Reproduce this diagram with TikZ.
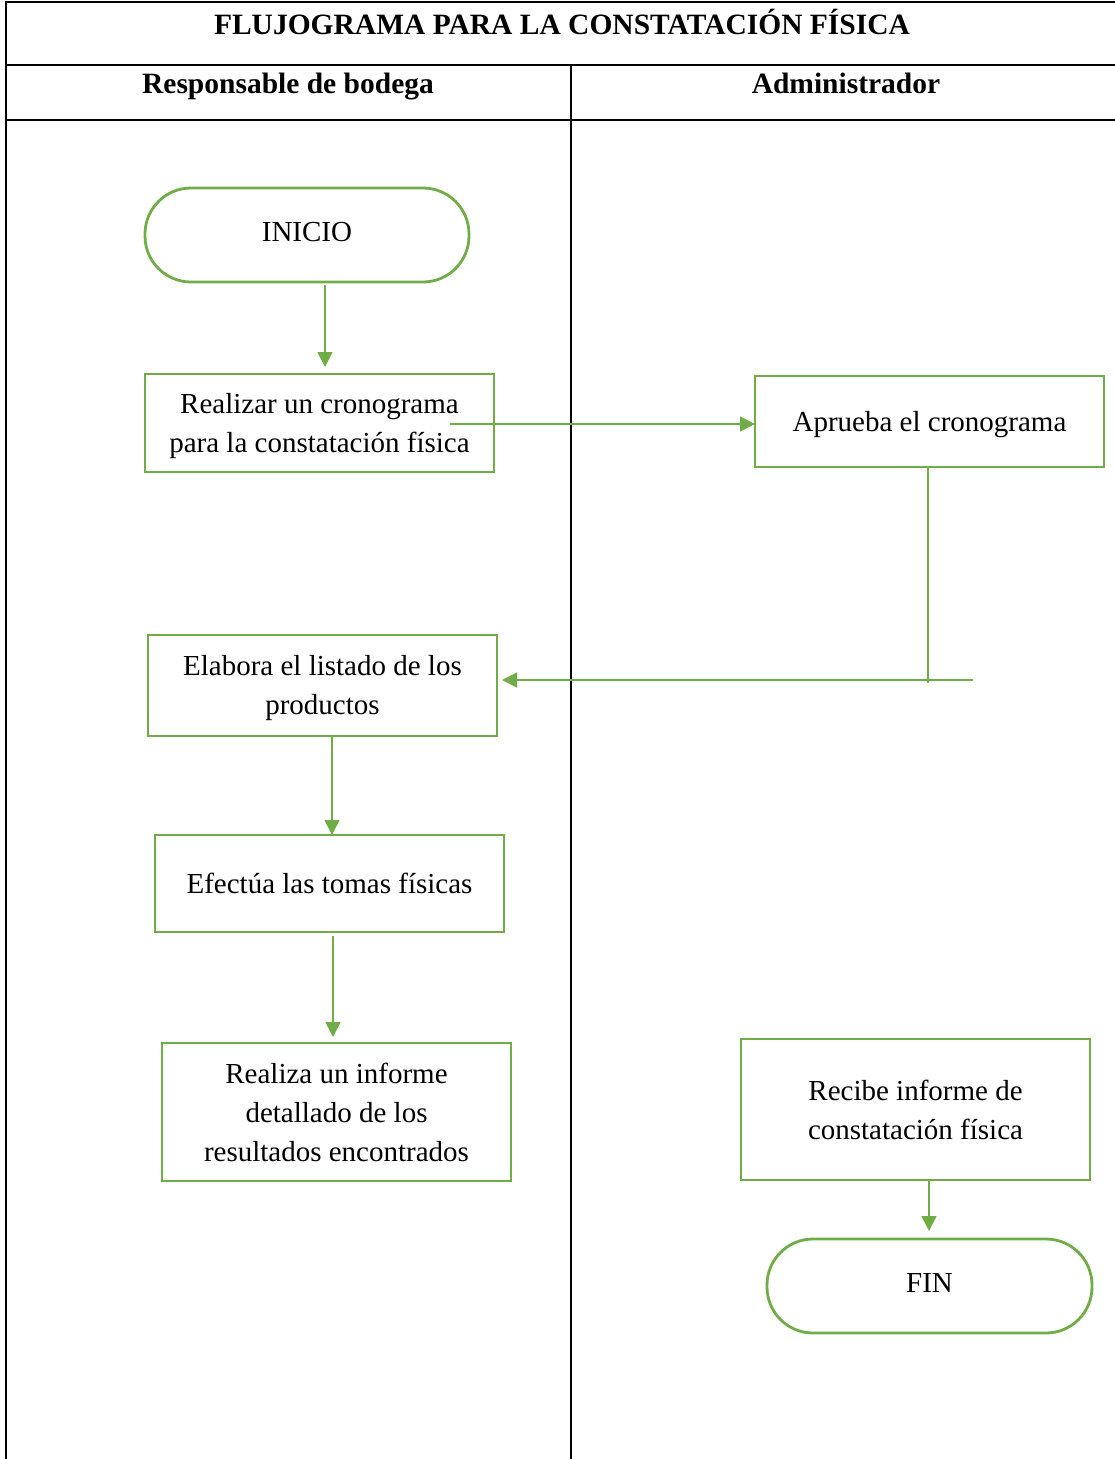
\documentclass[tikz,border=0pt]{standalone}
\usepackage{fontspec}
\setmainfont{Liberation Serif}
\usetikzlibrary{arrows.meta}
\definecolor{flowgreen}{HTML}{70AD47}
\newcommand{\lowertxt}[2]{\raisebox{#1}[\height][\depth]{#2}}
\tikzset{
  procbox/.style={draw=flowgreen, line width=2.8pt, rectangle, align=center, inner sep=0pt, font=\fontsize{29}{39}\selectfont},
  termbox/.style={draw=flowgreen, line width=2.8pt, rectangle, rounded corners=46pt, align=center, inner sep=0pt, font=\fontsize{29}{39}\selectfont},
  conn/.style={draw=flowgreen, line width=1.5pt},
  arr/.style={conn, -{Triangle[length=15pt,width=15pt]}},
  rule/.style={draw=black, line width=2pt},
  headtxt/.style={font=\bfseries\fontsize{29.5}{35}\selectfont, inner sep=0pt, anchor=base}
}
\begin{document}
\begin{tikzpicture}[x=1pt,y=-1pt]
\useasboundingbox (0,0) rectangle (1115,1459);
% table rules
\draw[rule] (6,2) -- (1115,2);
\draw[rule] (6,1) -- (6,1459);
\draw[rule] (6,65) -- (1115,65);
\draw[rule] (6,120) -- (1115,120);
\draw[rule] (571,65) -- (571,1459);
% headers
\node[headtxt] (title) at (562,34) {FLUJOGRAMA PARA LA CONSTATACIÓN FÍSICA};
\node[headtxt] (lane1) at (288,93) {Responsable de bodega};
\node[headtxt] (lane2) at (846,93) {Administrador};
% nodes
\node[termbox, minimum width=324pt, minimum height=94pt] (inicio) at (307,235) {\lowertxt{3pt}{INICIO}};
\node[procbox, minimum width=349pt, minimum height=98pt] (realizar) at (319.5,423) {\lowertxt{-3pt}{\parbox{340pt}{\centering Realizar un cronograma\\para la constatación física}}};
\node[procbox, minimum width=349pt, minimum height=91pt] (aprueba) at (929.5,421.5) {\lowertxt{-3pt}{Aprueba el cronograma}};
\node[procbox, minimum width=349pt, minimum height=101pt] (elabora) at (322.5,685.5) {\lowertxt{-3pt}{\parbox{340pt}{\centering Elabora el listado de los\\productos}}};
\node[procbox, minimum width=349pt, minimum height=97pt] (efectua) at (329.5,883.5) {Efectúa las tomas físicas};
\node[procbox, minimum width=349pt, minimum height=138pt] (informe) at (336.5,1112) {Realiza un informe\\detallado de los\\resultados encontrados};
\node[procbox, minimum width=349pt, minimum height=141pt] (recibe) at (915.5,1109.5) {Recibe informe de\\constatación física};
\node[termbox, minimum width=325pt, minimum height=94pt] (fin) at (929.5,1286) {\lowertxt{3pt}{FIN}};
% helper coordinates
\coordinate (s1) at (325,285);
\coordinate (e1) at (325,374);
\coordinate (s2) at (450,424);
\coordinate (e2) at (755,424);
\coordinate (s3) at (928,467);
\coordinate (c3) at (928,683);
\coordinate (s4) at (973,680);
\coordinate (e4) at (497,680);
\coordinate (s5) at (332,736);
\coordinate (e5) at (332,835);
\coordinate (s6) at (333,936);
\coordinate (e6) at (333,1043);
\coordinate (s7) at (929,1180);
\coordinate (e7) at (929,1239);
% connectors
\draw[arr, shorten >=7pt] (s1) -- (e1);
\draw[arr] (s2) -- (e2);
\draw[conn] (s3) -- (c3);
\draw[arr, shorten >=5pt] (s4) -- (e4);
\draw[arr] (s5) -- (e5);
\draw[arr, shorten >=6pt] (s6) -- (e6);
\draw[arr, shorten >=8pt] (s7) -- (e7);
\end{tikzpicture}
\end{document}
